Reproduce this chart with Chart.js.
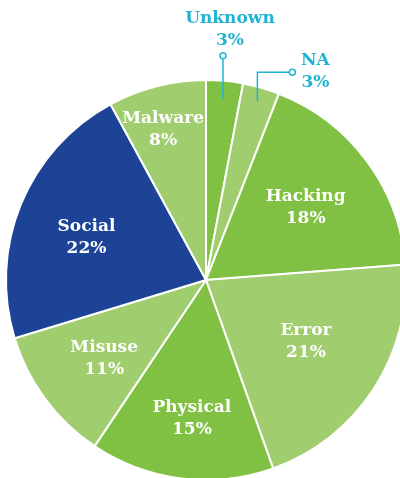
<!DOCTYPE html>
<html>
<head>
<meta charset="utf-8">
<script src="https://cdn.jsdelivr.net/npm/chart.js@4"></script>
<style>
  html, body { margin: 0; padding: 0; background: #fff; }
  #wrap { width: 400px; height: 478px; position: relative; }
</style>
</head>
<body>
<div id="wrap"><canvas id="pieChart"></canvas></div>
<script>
// Data
const categories = ['Unknown', 'NA', 'Hacking', 'Error', 'Physical', 'Misuse', 'Social', 'Malware'];
const shares = [3, 3, 18, 21, 15, 11, 22, 8];

const DARK = '#80c143';
const LIGHT = '#a0ce6e';
const BLUE = '#1c4396';
const CYAN = '#1fb4d3';
const sliceColors = [DARK, LIGHT, DARK, LIGHT, DARK, LIGHT, BLUE, LIGHT];

// label placement for labels drawn inside slices: radius fraction + small nudge
const insideLabel = {
    Hacking:  { r: 0.62,  dx: 0,  dy: 1 },
    Error:    { r: 0.59,  dx: 1,  dy: -3 },
    Physical: { r: 0.69,  dx: 3,  dy: 2 },
    Misuse:   { r: 0.64,  dx: 1,  dy: 2 },
    Social:   { r: 0.635, dx: -2, dy: 6 },
    Malware:  { r: 0.79,  dx: -4, dy: 3 }
};

const sliceLabels = {
    id: 'sliceLabels',
    afterDatasetsDraw(chart) {
        const ctx = chart.ctx;
        const arcs = chart.getDatasetMeta(0).data;
        ctx.save();
        ctx.textAlign = 'center';
        ctx.textBaseline = 'middle';
        ctx.font = 'bold 17px "DejaVu Serif"';
        arcs.forEach((arc, i) => {
            const name = categories[i];
            const mid = (arc.startAngle + arc.endAngle) / 2;
            const pct = shares[i] + '%';
            const lab = insideLabel[name];
            if (lab) {
                const r = arc.outerRadius * lab.r;
                const x = arc.x + Math.cos(mid) * r + lab.dx;
                const y = arc.y + Math.sin(mid) * r + lab.dy;
                ctx.fillStyle = '#fff';
                ctx.fillText(name, x, y - 11);
                ctx.fillText(pct, x, y + 11);
                return;
            }
            // small slices: label outside with a leader line
            const r = arc.outerRadius * (name === 'Unknown' ? 0.91 : 0.93);
            const ax = arc.x + Math.cos(mid) * r;
            const ay = arc.y + Math.sin(mid) * r;
            ctx.strokeStyle = CYAN;
            ctx.lineWidth = 1.5;
            let cx, cy, tx, ty;
            ctx.beginPath();
            if (name === 'Unknown') {
                cx = ax; cy = ay - 43;
                ctx.moveTo(ax, ay);
                ctx.lineTo(cx, cy + 3);
                tx = cx + 7; ty = cy - 26;
            } else {
                cx = ax + 35; cy = ay - 29;
                ctx.moveTo(ax, ay);
                ctx.lineTo(ax, cy);
                ctx.lineTo(cx - 3, cy);
                tx = cx + 23; ty = cy - 1;
            }
            ctx.stroke();
            ctx.beginPath();
            ctx.fillStyle = '#fff';
            ctx.arc(cx, cy, 3, 0, Math.PI * 2);
            ctx.fill();
            ctx.stroke();
            ctx.fillStyle = CYAN;
            ctx.fillText(name, tx, ty - 11);
            ctx.fillText(pct, tx, ty + 11);
        });
        ctx.restore();
    }
};

document.addEventListener('DOMContentLoaded', () => {
    const ctx = document.getElementById('pieChart').getContext('2d');
    new Chart(ctx, {
        type: 'pie',
        data: {
            labels: categories,
            datasets: [{
                data: shares,
                backgroundColor: sliceColors,
                borderColor: '#fff',
                borderWidth: 2,
                clip: false
            }]
        },
        options: {
            responsive: true,
            maintainAspectRatio: false,
            animation: false,
            radius: 200,
            layout: { padding: { top: 82, left: 12, right: 0, bottom: 0 } },
            plugins: {
                legend: { display: false },
                tooltip: { enabled: false }
            }
        },
        plugins: [sliceLabels]
    });
});
</script>
</body>
</html>
